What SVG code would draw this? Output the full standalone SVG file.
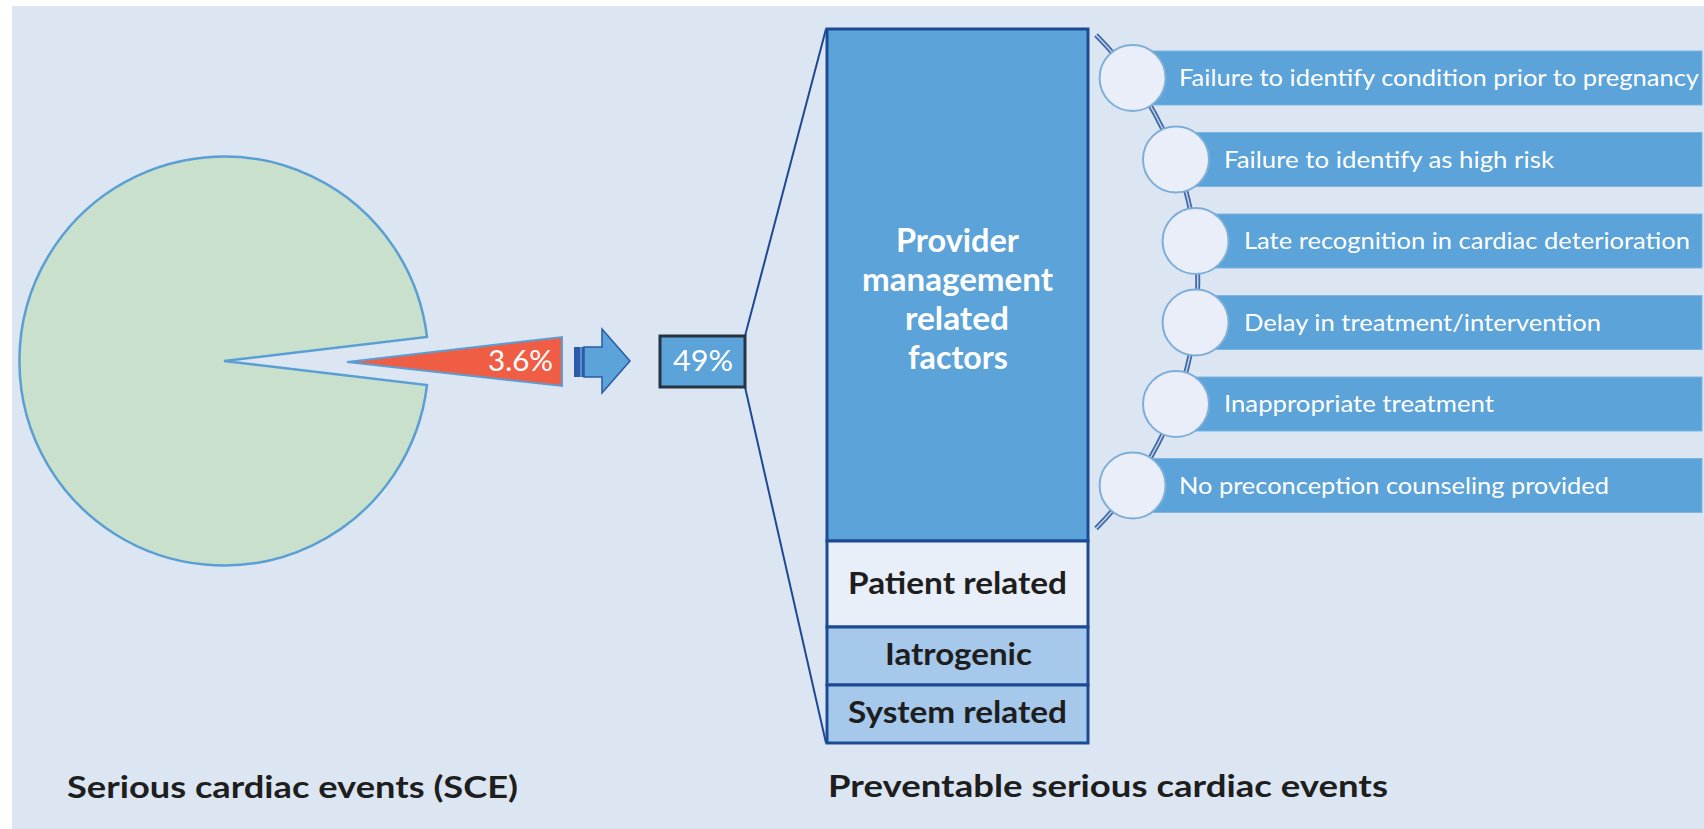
<svg xmlns="http://www.w3.org/2000/svg" width="1704" height="829" viewBox="0 0 1704 829">
<style>
.bar{fill:#5ba3d9;stroke:#7db5e3;stroke-width:1}
.circ{fill:#e9eef8;stroke:#7eaed8;stroke-width:2}
.lt{font-family:Lato,"Liberation Sans",sans-serif;font-size:23.5px;fill:#ffffff}
.bt{font-family:Lato,"Liberation Sans",sans-serif;font-weight:bold;font-size:31px;fill:#1e1e1e}
.wt{font-family:Lato,"Liberation Sans",sans-serif;font-weight:bold;font-size:32px;fill:#ffffff}
.sec{stroke:#1d4a94;stroke-width:3}
</style>
<rect x="0" y="0" width="1704" height="829" fill="#ffffff"/>
<rect x="12" y="6" width="1692" height="823" fill="#dce6f3"/>

<g id="pie">
<path d="M224 361 L427 337 A204.5 204.5 0 1 0 427 385 Z" fill="#c9e0cc" stroke="#5a9fd4" stroke-width="2.5" stroke-linejoin="miter"/>
</g>
<g id="slice">
<polygon points="347,362 562,337 562,386" fill="#ef5e44" stroke="#5a9fd4" stroke-width="2"/>
<text x="488" y="371" font-family="Lato,'Liberation Sans',sans-serif" font-size="28" fill="#ffffff" textLength="65" lengthAdjust="spacingAndGlyphs">3.6%</text>
</g>

<g id="connectors">
<g id="block-arrow">
<polygon points="584,347 602,347 602,329 630,361 602,393 602,377 584,377" fill="#5ba3d9" stroke="#2a5aa8" stroke-width="1.5"/>
<rect x="574" y="347" width="10" height="30" fill="#2a5aa8"/>
<line x1="581" y1="347" x2="581" y2="377" stroke="#6f9fd8" stroke-width="1.5"/>
</g>
<line x1="745" y1="336" x2="826" y2="29" stroke="#1d4a94" stroke-width="2"/>
<line x1="745" y1="387" x2="826" y2="743" stroke="#1d4a94" stroke-width="2"/>
<path d="M1096 35 A350 350 0 0 1 1096 528.5" fill="none" stroke="#3f6aa8" stroke-width="5"/>
<path d="M1096 35 A350 350 0 0 1 1096 528.5" fill="none" stroke="#c5d3e6" stroke-width="1.5"/>
</g>

<g id="pct49">
<rect x="660" y="336" width="85" height="51" fill="#5ba3d9" stroke="#263340" stroke-width="3"/>
<text x="673" y="371" font-family="Lato,'Liberation Sans',sans-serif" font-size="28" fill="#ffffff" textLength="60" lengthAdjust="spacingAndGlyphs">49%</text>
</g>

<g id="provider">
<rect x="827" y="29" width="261" height="512" fill="#5ba3d9" class="sec"/>
<text class="wt" x="896" y="252" textLength="123" lengthAdjust="spacingAndGlyphs">Provider</text>
<text class="wt" x="862" y="291" textLength="191" lengthAdjust="spacingAndGlyphs">management</text>
<text class="wt" x="905" y="330" textLength="104" lengthAdjust="spacingAndGlyphs">related</text>
<text class="wt" x="908" y="369" textLength="100" lengthAdjust="spacingAndGlyphs">factors</text>
</g>
<g id="patient">
<rect x="827" y="541" width="261" height="86" fill="#e9eff8" class="sec"/>
<text class="bt" x="848" y="594" textLength="219" lengthAdjust="spacingAndGlyphs">Patient related</text>
</g>
<g id="iatrogenic">
<rect x="827" y="627" width="261" height="58" fill="#a6c8ea" class="sec"/>
<text class="bt" x="885" y="665" textLength="147" lengthAdjust="spacingAndGlyphs">Iatrogenic</text>
</g>
<g id="system">
<rect x="827" y="685" width="261" height="58" fill="#a6c8ea" class="sec"/>
<text class="bt" x="848" y="723" textLength="219" lengthAdjust="spacingAndGlyphs">System related</text>
</g>

<g id="item1">
<rect class="bar" x="1132" y="51" width="570" height="54"/>
<circle class="circ" cx="1132.6" cy="78" r="33"/>
<text class="lt" x="1179" y="86" textLength="520" lengthAdjust="spacingAndGlyphs">Failure to identify condition prior to pregnancy</text>
</g>
<g id="item2">
<rect class="bar" x="1176" y="132.5" width="526" height="54"/>
<circle class="circ" cx="1176" cy="159.5" r="33"/>
<text class="lt" x="1224" y="167.5" textLength="330" lengthAdjust="spacingAndGlyphs">Failure to identify as high risk</text>
</g>
<g id="item3">
<rect class="bar" x="1195" y="214" width="507" height="54"/>
<circle class="circ" cx="1195.6" cy="241" r="33"/>
<text class="lt" x="1244" y="249" textLength="446" lengthAdjust="spacingAndGlyphs">Late recognition in cardiac deterioration</text>
</g>
<g id="item4">
<rect class="bar" x="1195" y="295.5" width="507" height="54"/>
<circle class="circ" cx="1195.6" cy="322.5" r="33"/>
<text class="lt" x="1244" y="330.5" textLength="357" lengthAdjust="spacingAndGlyphs">Delay in treatment/intervention</text>
</g>
<g id="item5">
<rect class="bar" x="1176" y="377" width="526" height="54"/>
<circle class="circ" cx="1176" cy="404" r="33"/>
<text class="lt" x="1224" y="412" textLength="270" lengthAdjust="spacingAndGlyphs">Inappropriate treatment</text>
</g>
<g id="item6">
<rect class="bar" x="1132" y="458.5" width="570" height="54"/>
<circle class="circ" cx="1132.6" cy="485.5" r="33"/>
<text class="lt" x="1179" y="493.5" textLength="430" lengthAdjust="spacingAndGlyphs">No preconception counseling provided</text>
</g>

<g id="labels">
<text class="bt" x="67" y="798" textLength="451" lengthAdjust="spacingAndGlyphs">Serious cardiac events (SCE)</text>
<text class="bt" x="828" y="797" textLength="560" lengthAdjust="spacingAndGlyphs">Preventable serious cardiac events</text>
</g>
</svg>
